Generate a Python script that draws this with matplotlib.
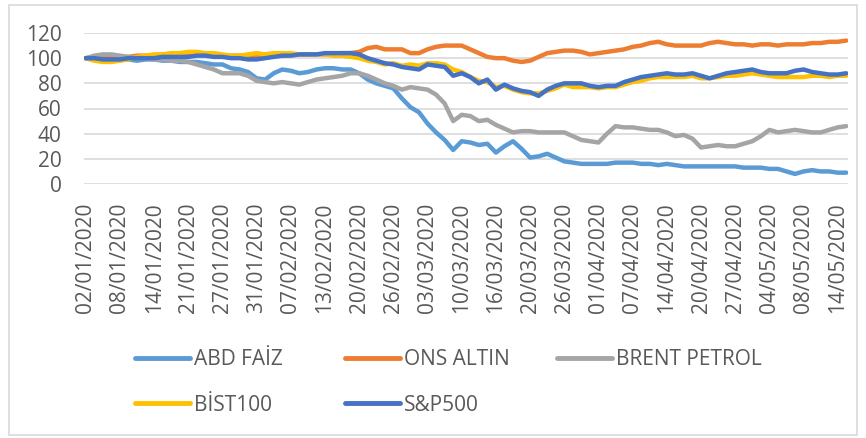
import matplotlib
matplotlib.use("Agg")
import matplotlib.pyplot as plt
from matplotlib.patches import FancyBboxPatch

plt.rcParams['font.family'] = ['Open Sans', 'DejaVu Sans']

tick_labels = ["02/01/2020", "08/01/2020", "14/01/2020", "21/01/2020", "27/01/2020",
               "31/01/2020", "07/02/2020", "13/02/2020", "20/02/2020", "26/02/2020",
               "03/03/2020", "10/03/2020", "16/03/2020", "20/03/2020", "26/03/2020",
               "01/04/2020", "07/04/2020", "14/04/2020", "20/04/2020", "27/04/2020",
               "04/05/2020", "08/05/2020", "14/05/2020"]

abd_faiz = [100, 100, 99, 99, 99, 99, 98, 99, 99, 98,
            98, 97, 97, 97, 96, 95, 95, 92, 91, 89,
            84, 83, 88, 91, 90, 88, 89, 91, 92, 92,
            91, 91, 88, 83, 80, 78, 76, 68, 61, 57,
            48, 41, 35, 27, 34, 33, 31, 32, 25, 30,
            34, 28, 21, 22, 24, 21, 18, 17, 16, 16,
            16, 16, 17, 17, 17, 16, 16, 15, 16, 15,
            14, 14, 14, 14, 14, 14, 14, 13, 13, 13,
            12, 12, 10, 8, 10, 11, 10, 10, 9, 9]

ons_altin = [100, 100, 100, 101, 101, 101, 102, 102, 102, 103,
             103, 103, 103, 104, 103, 103, 102, 102, 102, 102,
             102, 101, 102, 102, 103, 103, 103, 103, 103, 103,
             104, 104, 105, 108, 109, 107, 107, 107, 104, 104,
             107, 109, 110, 110, 110, 107, 104, 101, 100, 100,
             98, 97, 98, 101, 104, 105, 106, 106, 105, 103,
             104, 105, 106, 107, 109, 110, 112, 113, 111, 110,
             110, 110, 110, 112, 113, 112, 111, 111, 110, 111,
             111, 110, 111, 111, 111, 112, 112, 113, 113, 114]

brent_petrol = [100, 102, 103, 103, 102, 101, 100, 100, 99, 99,
                98, 98, 97, 95, 93, 91, 88, 88, 88, 86,
                82, 81, 80, 81, 80, 79, 81, 83, 84, 85,
                86, 88, 88, 86, 83, 80, 78, 75, 77, 76,
                75, 71, 64, 50, 55, 54, 50, 51, 47, 44,
                41, 42, 42, 41, 41, 41, 41, 38, 35, 34,
                33, 40, 46, 45, 45, 44, 43, 43, 41, 38,
                39, 36, 29, 30, 31, 30, 30, 32, 34, 38,
                43, 41, 42, 43, 42, 41, 41, 43, 45, 46]

bist100 = [100, 98, 97, 97, 98, 99, 101, 102, 103, 103,
           104, 104, 105, 105, 104, 104, 103, 102, 102, 103,
           104, 103, 104, 104, 104, 103, 103, 103, 103, 102,
           102, 101, 100, 98, 97, 95, 96, 94, 95, 94,
           96, 96, 95, 91, 89, 85, 82, 81, 77, 78,
           75, 73, 72, 72, 74, 76, 79, 77, 77, 77,
           76, 77, 77, 79, 81, 82, 84, 85, 85, 85,
           85, 86, 84, 84, 85, 86, 86, 87, 88, 87,
           86, 85, 85, 85, 85, 86, 86, 85, 86, 86]

sp500 = [100, 100, 99, 99, 99, 100, 100, 100, 100, 101,
         101, 101, 101, 102, 102, 101, 101, 100, 100, 99,
         99, 100, 101, 102, 102, 103, 103, 103, 104, 104,
         104, 104, 103, 100, 98, 96, 95, 93, 92, 91,
         95, 94, 93, 86, 88, 85, 80, 83, 75, 79,
         76, 74, 73, 70, 75, 78, 80, 80, 80, 78,
         77, 78, 78, 81, 83, 85, 86, 87, 88, 87,
         87, 88, 86, 84, 86, 88, 89, 90, 91, 89,
         88, 88, 88, 90, 91, 89, 88, 87, 87, 88]

series = [
    ("ABD FAİZ", abd_faiz, "#5B9BD5"),
    ("ONS ALTIN", ons_altin, "#ED7D31"),
    ("BRENT PETROL", brent_petrol, "#A5A5A5"),
    ("BİST100", bist100, "#FFC000"),
    ("S&P500", sp500, "#4472C4"),
]

W, H = 866, 438
FS = 15
fig = plt.figure(figsize=(W / 100, H / 100), dpi=100)
ax = fig.add_axes([84 / W, 1 - 184 / H, (848 - 84) / W, (184 - 33) / H])

handles = {}
for name, vals, color in series:
    ln, = ax.plot(range(len(vals)), vals, color=color, lw=3.2, solid_capstyle='round',
                  solid_joinstyle='round', label=name)
    handles[name] = ln

n = len(abd_faiz)
ax.set_xlim(-0.2, n - 1 + 0.2)
ax.set_ylim(0, 120)
ax.set_yticks(range(0, 121, 20))
ax.set_xticks(range(0, 4 * len(tick_labels), 4))
ax.set_xticklabels(tick_labels, rotation=90)
for s in ax.spines.values():
    s.set_visible(False)
ax.grid(axis='y', color='#D9D9D9', lw=1.2)
ax.set_axisbelow(True)
ax.tick_params(axis='both', length=0, labelsize=FS, labelcolor='#595959')
ax.tick_params(axis='y', pad=16)
ax.tick_params(axis='x', pad=13.5)

# legend: three columns
cols = [(["ABD FAİZ", "BİST100"], 135), (["ONS ALTIN", "S&P500"], 345), (["BRENT PETROL"], 557)]
for names, x0 in cols:
    leg = fig.legend([handles[k] for k in names], names, loc='upper left',
                     bbox_to_anchor=(x0 / W, 1 - 349 / H), frameon=False,
                     fontsize=FS, handlelength=2.65, handletextpad=0.2,
                     labelspacing=1.18, borderpad=0, borderaxespad=0,
                     labelcolor='#595959')
    for lh in leg.get_lines():
        lh.set_linewidth(3.5)
        lh.set_solid_capstyle('round')

fig.patches.append(FancyBboxPatch((9 / W, 3 / H), (857 - 9) / W, (433 - 3) / H,
                                  boxstyle='square,pad=0', transform=fig.transFigure,
                                  fill=False, edgecolor='#D9D9D9', lw=1.2))

fig.savefig("out.png", dpi=100)
